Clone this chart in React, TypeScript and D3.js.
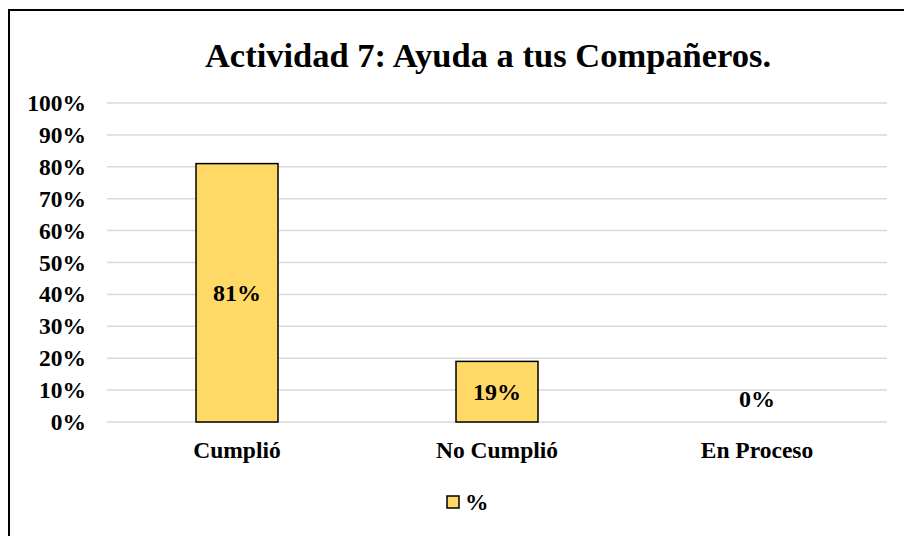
import React from "react";
import * as d3 from "d3";

const categories = ["Cumplió", "No Cumplió", "En Proceso"];
const values = [0.81, 0.19, 0];
const valueLabels = ["81%", "19%", "0%"];
const yTicks = [0, 0.1, 0.2, 0.3, 0.4, 0.5, 0.6, 0.7, 0.8, 0.9, 1];
const title = "Actividad 7: Ayuda a tus Compañeros.";
const seriesName = "%";

const W = 904;
const H = 536;
const font = "'Liberation Serif', 'Times New Roman', serif";
const fill = "#FFD966";

export default function App() {
  const x = d3.scaleBand<string>().domain(categories).range([107, 887]).paddingInner(0).paddingOuter(0);
  const y = d3.scaleLinear().domain([0, 1]).range([422, 103]);
  const bw = 82;
  const fmt = d3.format(".0%");
  return (
    <svg width={W} height={H} style={{ position: "absolute", left: 0, top: 0 }}>
      <rect x={0} y={0} width={W} height={H} fill="#fff" />
      <rect x={9} y={10} width={W + 20} height={H + 20} fill="none" stroke="#000" strokeWidth={2} />
      <text x={488} y={67} textAnchor="middle" fontFamily={font} fontWeight="bold" fontSize={34.5}>
        {title}
      </text>
      {yTicks.map((t) => (
        <g key={t}>
          <line x1={107} x2={887} y1={y(t)} y2={y(t)} stroke="#d9d9d9" strokeWidth={1.5} />
          <text x={86} y={y(t) + 8} textAnchor="end" fontFamily={font} fontWeight="bold" fontSize={23.5}>
            {fmt(t)}
          </text>
        </g>
      ))}
      {categories.map((c, i) => {
        const cx = (x(c) as number) + x.bandwidth() / 2;
        const v = values[i];
        const top = y(v);
        const labelY = v > 0 ? (top + y(0)) / 2 + 8 : y(0) - 15;
        return (
          <g key={c}>
            {v > 0 && (
              <rect x={cx - bw / 2} y={top} width={bw} height={y(0) - top} fill={fill} stroke="#000" strokeWidth={1.5} />
            )}
            <text x={cx} y={labelY} textAnchor="middle" fontFamily={font} fontWeight="bold" fontSize={24}>
              {valueLabels[i]}
            </text>
            <text x={cx} y={458} textAnchor="middle" fontFamily={font} fontWeight="bold" fontSize={23.5}>
              {c}
            </text>
          </g>
        );
      })}
      <rect x={447} y={496} width={12} height={12} fill={fill} stroke="#000" strokeWidth={1.5} />
      <text x={465} y={510} fontFamily={font} fontWeight="bold" fontSize={23.5}>
        {seriesName}
      </text>
    </svg>
  );
}
